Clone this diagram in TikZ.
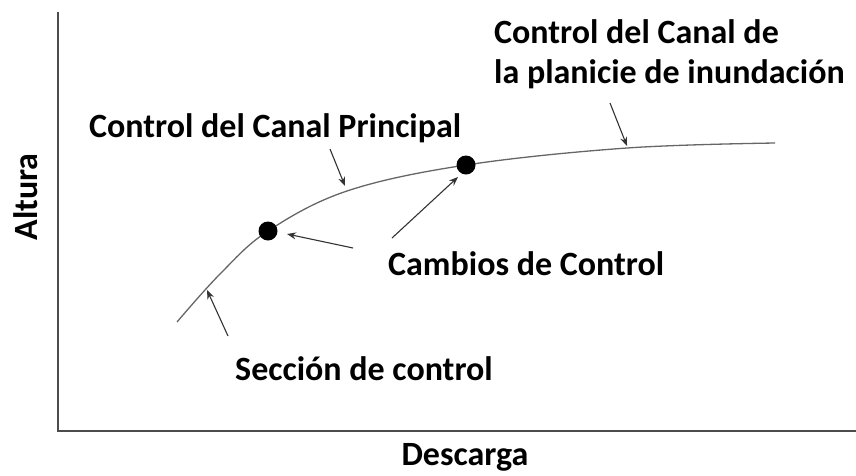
\documentclass[tikz,border=0pt]{standalone}
\usepackage{fontspec}
\setmainfont{Carlito}
\usetikzlibrary{arrows.meta}

\begin{document}
\begin{tikzpicture}[x=1pt, y=-1pt,
    etiqueta/.style={font=\bfseries\fontsize{34}{40}\selectfont, inner sep=0pt},
    punto/.style={circle, fill=black, minimum size=19pt, inner sep=0pt},
    flecha/.style={black!80, line width=1.1pt, -{Stealth[length=9pt, width=7pt]}}]
    \useasboundingbox (0,0) rectangle (856,475);
    % ejes
    \draw[black!70, line width=1.8pt] (58,12) -- (58,431) -- (856,431);
    \node[etiqueta, rotate=90] (altura) at (26,197) {Altura};
    \node[etiqueta] (descarga) at (465,457) {Descarga};
    % curva
    \draw[black!60, line width=1.3pt] plot[smooth, tension=0.6] coordinates
        {(177,322) (220,274) (268,231) (347,191) (466,165) (627,148) (775,143)};
    \node[punto] (cambio1) at (268,231) {};
    \node[punto] (cambio2) at (466,165) {};
    % textos
    \node[etiqueta, anchor=base west] (llanura1) at (494,43) {Control del Canal de};
    \node[etiqueta, anchor=base west] (llanura2) at (494,83) {la planicie de inundación};
    \node[etiqueta, anchor=base west] (principal) at (89,137) {Control del Canal Principal};
    \node[etiqueta, anchor=base west] (cambios) at (388,275) {Cambios de Control};
    \node[etiqueta, anchor=base west] (seccion) at (235,380) {Sección de control};
    % flechas
    \coordinate (a1) at (610,103); \coordinate (b1) at (627,146);
    \coordinate (a2) at (330,149); \coordinate (b2) at (345,186);
    \coordinate (a3) at (353,248); \coordinate (b3) at (287,234);
    \coordinate (a4) at (392,238); \coordinate (b4) at (458,177);
    \coordinate (a5) at (228,336); \coordinate (b5) at (207,290);
    \draw[flecha] (a1) -- (b1);
    \draw[flecha] (a2) -- (b2);
    \draw[flecha] (a3) -- (b3);
    \draw[flecha] (a4) -- (b4);
    \draw[flecha] (a5) -- (b5);
\end{tikzpicture}
\end{document}
